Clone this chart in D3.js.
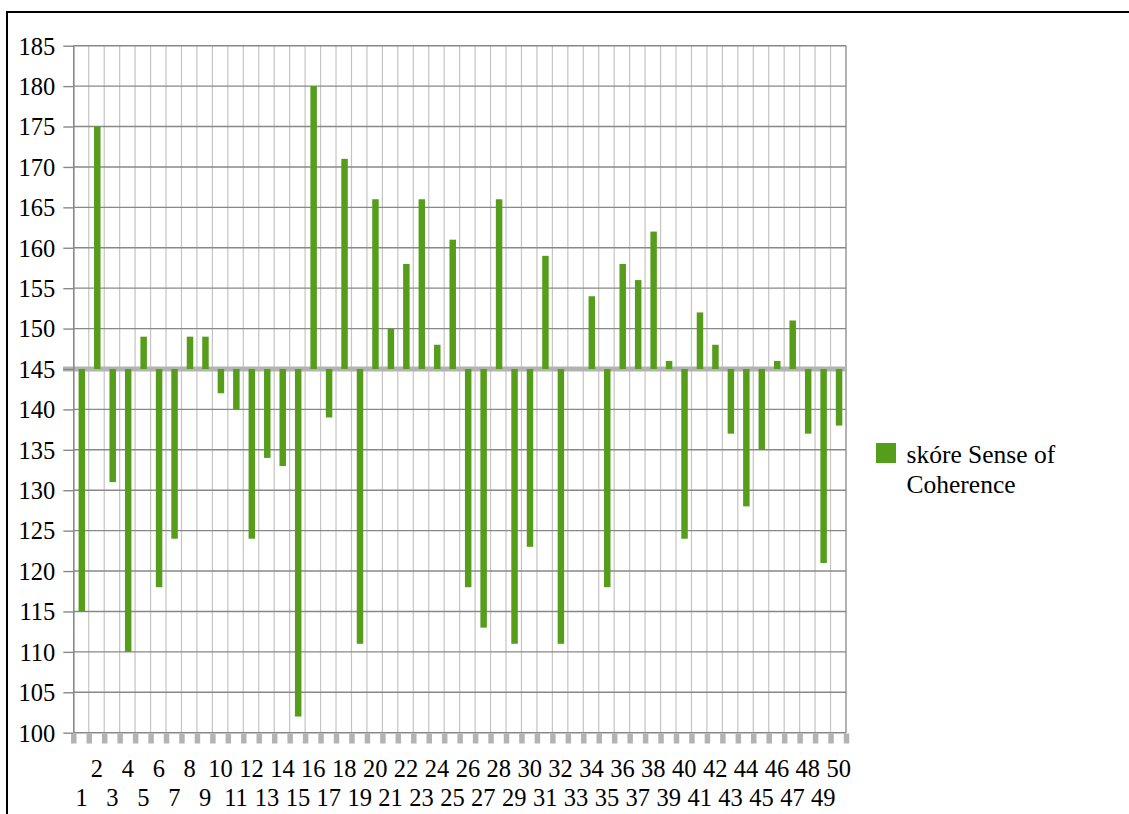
<!DOCTYPE html>
<html>
<head>
<meta charset="utf-8">
<script src="https://cdn.jsdelivr.net/npm/d3@7"></script>
<style>
  html, body { margin: 0; padding: 0; background: #fff; }
  svg { display: block; }
  svg text { font-family: "Liberation Serif", Tinos, "Times New Roman", Times, "DejaVu Serif", serif; fill: #000; }
</style>
</head>
<body>
<svg id="chart" width="1129" height="814"></svg>
<script>
// Respondent numbers 1..50
const categories = d3.range(1, 51).map(String);
// Sense of Coherence score per respondent
const scores = [
  115, 175, 131, 110, 149, 118, 124, 149, 149, 142,
  140, 124, 134, 133, 102, 180, 139, 171, 111, 166,
  150, 158, 166, 148, 161, 118, 113, 166, 111, 123,
  159, 111, 145, 154, 118, 158, 156, 162, 146, 124,
  152, 148, 137, 128, 135, 146, 151, 137, 121, 138
];
const yTicks = d3.range(100, 186, 5);
const baseline = 145;
const seriesName = ["skóre Sense of", "Coherence"];

const fontStack = "'Liberation Serif', Tinos, 'Times New Roman', Times, 'DejaVu Serif', serif";
const labelSize = "24.5px";
const svg = d3.select("#chart");
const plotL = 73.3, plotR = 846, plotT = 45.7, plotB = 732.7;

// Category slots (gridlines) and bars within each slot
const xSlot = d3.scaleBand().domain(categories).range([plotL, plotR]).padding(0);
const xBar = d3.scaleBand().domain(categories).range([plotL, plotR])
  .paddingInner(0.58).paddingOuter(0.29);
const xEdge = d3.scaleLinear().domain([0, categories.length]).range([plotL, plotR]);
const y = d3.scaleLinear().domain([100, 185]).range([plotB, plotT]);

// Outer frame
svg.append("line").attr("x1", 6).attr("x2", 1129).attr("y1", 12).attr("y2", 12)
  .attr("stroke", "#000").attr("stroke-width", 2);
svg.append("line").attr("x1", 7).attr("x2", 7).attr("y1", 12).attr("y2", 814)
  .attr("stroke", "#000").attr("stroke-width", 2);

// Vertical gridlines at slot boundaries
svg.append("g").selectAll("line")
  .data(d3.range(1, categories.length + 1))
  .join("line")
  .attr("x1", d => xEdge(d)).attr("x2", d => xEdge(d))
  .attr("y1", plotT).attr("y2", plotB)
  .attr("stroke", d => d === categories.length ? "#999" : "#c4c4c4")
  .attr("stroke-width", d => d === categories.length ? 1.5 : 1.2);

// Horizontal gridlines
svg.append("g").selectAll("line")
  .data(yTicks.filter(v => v !== baseline))
  .join("line")
  .attr("x1", plotL).attr("x2", plotR)
  .attr("y1", d => y(d)).attr("y2", d => y(d))
  .attr("stroke", "#888").attr("stroke-width", 1.4);

// Bottom tick marks at slot boundaries
const xAxis = svg.append("g")
  .attr("transform", `translate(0,${plotB + 0.8})`)
  .call(d3.axisBottom(xEdge).tickValues(d3.range(0, categories.length + 1))
    .tickSize(10).tickFormat(""));
xAxis.select(".domain").remove();
xAxis.selectAll(".tick line").attr("stroke", "#b3b3b3").attr("stroke-width", 5.5);

// Category axis line at the baseline value
svg.append("line")
  .attr("x1", 63).attr("x2", plotR)
  .attr("y1", y(baseline)).attr("y2", y(baseline))
  .attr("stroke", "#b3b3b3").attr("stroke-width", 5);

// Bars from the baseline
svg.append("g").selectAll("rect")
  .data(scores)
  .join("rect")
  .attr("x", (d, i) => xBar(categories[i]) + 0.8)
  .attr("width", xBar.bandwidth())
  .attr("y", d => y(Math.max(d, baseline)))
  .attr("height", d => Math.abs(y(d) - y(baseline)))
  .attr("fill", "#579d1c");

// Value axis
const yAxis = svg.append("g")
  .attr("transform", `translate(${plotL},0)`)
  .call(d3.axisLeft(y).tickValues(yTicks).tickSize(10).tickPadding(8));
yAxis.attr("font-family", null).attr("font-size", null);
yAxis.select(".domain").attr("stroke", "#888").attr("stroke-width", 1.6)
  .attr("d", `M0.5,${plotT}V${plotB}`);
yAxis.selectAll(".tick line").attr("stroke", "#888").attr("stroke-width", 1.4);
yAxis.selectAll(".tick text")
  .style("font-family", fontStack)
  .style("font-size", labelSize).attr("fill", "#000").attr("dy", "0.34em");

// Category labels, staggered on two rows
svg.append("g").selectAll("text")
  .data(categories)
  .join("text")
  .attr("x", d => xSlot(d) + xSlot.bandwidth() / 2 + 0.5)
  .attr("y", (d, i) => i % 2 === 0 ? 806 : 777)
  .attr("text-anchor", "middle")
  .style("font-family", fontStack)
  .style("font-size", labelSize)
  .text(d => d);

// Legend
const legend = svg.append("g");
legend.append("rect").attr("x", 876).attr("y", 443).attr("width", 20).attr("height", 20)
  .attr("fill", "#579d1c");
legend.selectAll("text")
  .data(seriesName)
  .join("text")
  .attr("x", 906.5)
  .attr("y", (d, i) => 463 + i * 30)
  .style("font-family", fontStack)
  .style("font-size", "25.5px")
  .text(d => d);
</script>
</body>
</html>
